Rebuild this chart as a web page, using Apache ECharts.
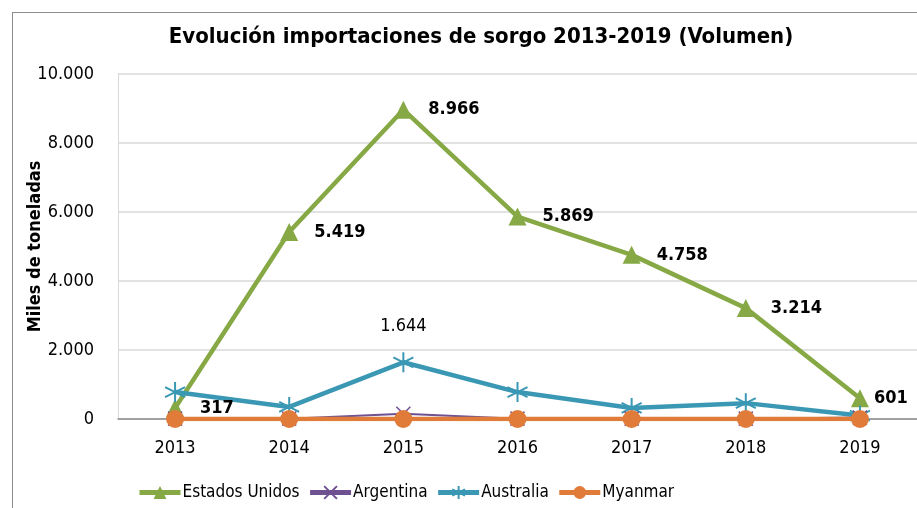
<!DOCTYPE html>
<html>
<head>
<meta charset="utf-8">
<script src="https://cdn.jsdelivr.net/npm/echarts@6/dist/echarts.min.js"></script>
<style>
  html, body { margin: 0; padding: 0; background: #fff; }
  #frame { position: absolute; left: 12px; top: 12px; width: 910px; height: 500px; border: 1px solid #8c8c8c; box-sizing: border-box; }
  #chart { position: absolute; left: 0; top: 0; width: 917px; height: 508px; }
</style>
</head>
<body>
<div id="frame"></div>
<div id="chart"></div>
<script>
const years = ['2013', '2014', '2015', '2016', '2017', '2018', '2019']
const estadosUnidos = [317, 5419, 8966, 5869, 4758, 3214, 601]
const argentina = [10, 10, 150, 10, 10, 10, 40]
const australia = [780, 350, 1644, 780, 320, 460, 100]
const myanmar = [0, 0, 0, 0, 0, 0, 0]

const font = "'DejaVu Sans Condensed', 'Liberation Sans Narrow', 'Liberation Sans', sans-serif"
const crossPath = 'path://M0,0L10,10M10,0L0,10'
const starPath = 'path://M5,0L5,10M0,2.5L10,7.5M10,2.5L0,7.5'

const fmt = v => v.toLocaleString('de-DE')

const chart = echarts.init(document.getElementById('chart'))

const boldLabel = {
  show: true,
  position: 'right',
  distance: 16,
  fontFamily: font,
  fontWeight: 'bold',
  fontSize: 18,
  color: '#000',
  formatter: p => fmt(p.value)
}

// last label sits closer to its point, as in the original
const usData = estadosUnidos.map((v, i) =>
  i === estadosUnidos.length - 1 ? { value: v, label: { distance: 5 } } : v)

chart.setOption({
  animation: false,
  textStyle: { fontFamily: font },
  title: {
    text: 'Evolución importaciones de sorgo 2013-2019 (Volumen)',
    left: 476,
    top: 21,
    textAlign: 'center',
    textStyle: { fontFamily: font, fontSize: 22, fontWeight: 'bold', color: '#000' }
  },
  legend: {
    bottom: 2,
    left: 132,
    itemWidth: 41,
    itemHeight: 16,
    itemGap: 8,
    textStyle: { fontFamily: font, fontSize: 17, color: '#000', padding: [0, 0, 0, -3] },
    lineStyle: { width: 5 },
    data: ['Estados Unidos', 'Argentina', 'Australia', 'Myanmar']
  },
  grid: { left: 118, width: 806, top: 74, bottom: 89 },
  xAxis: {
    type: 'category',
    data: years,
    boundaryGap: true,
    axisLine: { lineStyle: { color: '#8c8c8c', width: 1.5 } },
    axisTick: { show: false },
    axisLabel: { fontFamily: font, fontSize: 18, color: '#000', margin: 20 }
  },
  yAxis: {
    type: 'value',
    min: 0,
    max: 10000,
    interval: 2000,
    name: 'Miles de toneladas',
    nameLocation: 'middle',
    nameGap: 74,
    nameMoveOverlap: false,
    nameTextStyle: { fontFamily: font, fontSize: 18, fontWeight: 'bold', color: '#000' },
    axisLine: { show: true, lineStyle: { color: '#d9d9d9' } },
    axisTick: { show: false },
    axisLabel: { fontFamily: font, fontSize: 18, color: '#000', margin: 24, formatter: v => fmt(v) },
    splitLine: { lineStyle: { color: '#d9d9d9', width: 1.5 } }
  },
  series: [
    {
      name: 'Estados Unidos',
      type: 'line',
      data: usData,
      z: 3,
      lineStyle: { color: '#86a845', width: 4.5 },
      itemStyle: { color: '#86a845' },
      symbol: 'triangle',
      symbolSize: 18,
      label: boldLabel
    },
    {
      name: 'Argentina',
      type: 'line',
      data: argentina,
      z: 4,
      lineStyle: { color: '#6f5192', width: 2 },
      itemStyle: { color: '#6f5192', borderColor: '#6f5192', borderWidth: 1.5 },
      symbol: crossPath,
      symbolSize: 14
    },
    {
      name: 'Australia',
      type: 'line',
      data: australia,
      z: 3,
      lineStyle: { color: '#3b98b4', width: 4.5 },
      itemStyle: { color: '#3b98b4', borderColor: '#3b98b4', borderWidth: 2 },
      symbol: starPath,
      symbolSize: 20,
      label: {
        show: true,
        position: 'top',
        distance: 16,
        fontFamily: font,
        fontSize: 18,
        color: '#000',
        formatter: p => (p.dataIndex === 2 ? fmt(p.value) : '')
      }
    },
    {
      name: 'Myanmar',
      type: 'line',
      data: myanmar,
      z: 5,
      lineStyle: { color: '#e07b39', width: 4.5 },
      itemStyle: { color: '#e07b39' },
      symbol: 'circle',
      symbolSize: 18
    }
  ]
})
</script>
</body>
</html>
